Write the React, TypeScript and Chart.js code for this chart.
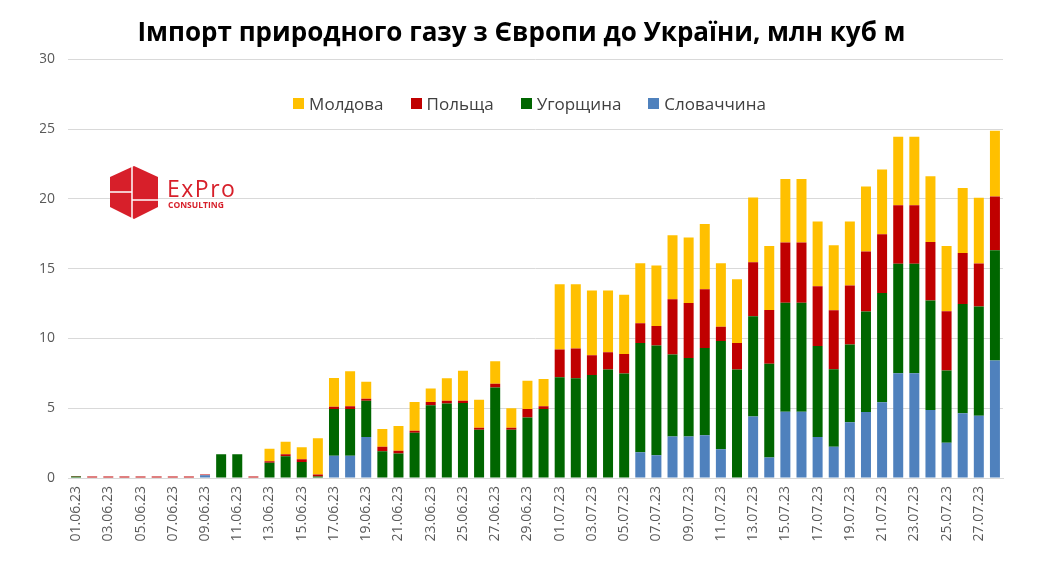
import Chart from "chart.js/auto";
import { useEffect, useRef } from "react";

const dates = [
  "01.06.23", "02.06.23", "03.06.23", "04.06.23", "05.06.23", "06.06.23", "07.06.23", "08.06.23",
  "09.06.23", "10.06.23", "11.06.23", "12.06.23", "13.06.23", "14.06.23", "15.06.23", "16.06.23",
  "17.06.23", "18.06.23", "19.06.23", "20.06.23", "21.06.23", "22.06.23", "23.06.23", "24.06.23",
  "25.06.23", "26.06.23", "27.06.23", "28.06.23", "29.06.23", "30.06.23", "01.07.23", "02.07.23",
  "03.07.23", "04.07.23", "05.07.23", "06.07.23", "07.07.23", "08.07.23", "09.07.23", "10.07.23",
  "11.07.23", "12.07.23", "13.07.23", "14.07.23", "15.07.23", "16.07.23", "17.07.23", "18.07.23",
  "19.07.23", "20.07.23", "21.07.23", "22.07.23", "23.07.23", "24.07.23", "25.07.23", "26.07.23",
  "27.07.23", "28.07.23",
];

// stacked bottom -> top
const slovakia = [
  0, 0, 0, 0, 0, 0, 0, 0, 0.2, 0, 0, 0, 0, 0, 0, 0,
  1.6, 1.6, 2.93, 0, 0, 0, 0, 0, 0, 0, 0, 0, 0, 0, 0, 0,
  0, 0, 0, 1.84, 1.63, 2.97, 2.97, 3.06, 2.06, 0, 4.4, 1.46, 4.75, 4.75,
  2.93, 2.23, 4.0, 4.72, 5.42, 7.51, 7.51, 4.87, 2.52, 4.63, 4.46, 8.42,
];
const hungary = [
  0.1, 0, 0, 0, 0, 0, 0, 0, 0, 1.7, 1.7, 0, 1.1, 1.55, 1.15, 0.1,
  3.35, 3.35, 2.6, 1.92, 1.76, 3.24, 5.21, 5.33, 5.38, 3.45, 6.49, 3.45, 4.33, 4.95, 7.22, 7.15,
  7.37, 7.78, 7.49, 7.83, 7.87, 5.88, 5.62, 6.25, 7.75, 7.78, 7.18, 6.73, 7.8, 7.8,
  6.52, 5.56, 5.57, 7.2, 7.84, 7.84, 7.84, 7.84, 5.18, 7.84, 7.82, 7.89,
];
const poland = [
  0.05, 0.1, 0.1, 0.1, 0.1, 0.1, 0.1, 0.1, 0.05, 0, 0, 0.1, 0.1, 0.15, 0.2, 0.15,
  0.15, 0.19, 0.14, 0.31, 0.19, 0.15, 0.24, 0.2, 0.15, 0.15, 0.26, 0.15, 0.62, 0.19, 1.99, 2.13,
  1.43, 1.22, 1.39, 1.41, 1.39, 3.95, 3.95, 4.21, 1.03, 1.89, 3.87, 3.85, 4.32, 4.32,
  4.29, 4.22, 4.22, 4.31, 4.2, 4.19, 4.19, 4.2, 4.24, 3.65, 3.09, 3.86,
];
const moldova = [
  0, 0, 0, 0, 0, 0, 0, 0, 0, 0, 0, 0, 0.9, 0.9, 0.85, 2.6,
  2.06, 2.5, 1.23, 1.28, 1.77, 2.06, 0.96, 1.61, 2.16, 2.0, 1.61, 1.4, 2.02, 1.96, 4.67, 4.6,
  4.64, 4.44, 4.25, 4.3, 4.33, 4.59, 4.68, 4.68, 4.54, 4.56, 4.65, 4.57, 4.55, 4.55,
  4.63, 4.66, 4.58, 4.66, 4.63, 4.9, 4.9, 4.7, 4.68, 4.65, 4.7, 4.7,
];

const seriesNames = ["Словаччина", "Угорщина", "Польща", "Молдова"];
const seriesColors = ["#4F81BD", "#006600", "#C00000", "#FFC000"];
const seriesValues = [slovakia, hungary, poland, moldova];

const yTicks = { min: 0, max: 30, step: 5 };

const FONT = "'Open Sans', 'Noto Sans', sans-serif";

const Logo = () => (
  <svg width="170" height="60" viewBox="0 0 170 60" style={{ position: "absolute", left: 105, top: 165 }}>
    <polygon points="29,1 53,12 53,42 29,54 5,42 5,12" fill="#D71F2A" />
    <line x1="27" y1="1" x2="27" y2="54" stroke="#fff" strokeWidth="1.5" />
    <line x1="5" y1="27" x2="27" y2="27" stroke="#fff" strokeWidth="1.5" />
    <line x1="27" y1="35" x2="53" y2="35" stroke="#fff" strokeWidth="1.5" />
    <text x="62" y="32" fill="#D71F2A" fontFamily={FONT} fontSize="23" fontWeight="500" letterSpacing="1.5">ExPro</text>
    <text x="63" y="43" fill="#D71F2A" fontFamily={FONT} fontSize="8.5" fontWeight="700">CONSULTING</text>
  </svg>
);

const App = () => {
  const canvasRef = useRef<HTMLCanvasElement | null>(null);
  const chartRef = useRef<Chart | null>(null);

  useEffect(() => {
    document.body.style.margin = "0";
    if (!canvasRef.current) return;
    chartRef.current?.destroy();

    chartRef.current = new Chart(canvasRef.current, {
      type: "bar",
      data: {
        labels: dates,
        datasets: seriesNames.map((name, i) => ({
          label: name,
          data: seriesValues[i],
          backgroundColor: seriesColors[i],
          borderWidth: 0,
          barPercentage: 0.62,
          categoryPercentage: 1,
        })),
      },
      options: {
        responsive: true,
        maintainAspectRatio: false,
        animation: false,
        // left padding keeps the title centred like the original
        layout: { padding: { left: 40, right: 37, top: 0, bottom: 0 } },
        scales: {
          x: {
            stacked: true,
            grid: { display: false, drawTicks: false },
            border: { color: "#d9d9d9" },
            ticks: {
              autoSkip: false,
              minRotation: 90,
              maxRotation: 90,
              padding: 8,
              color: "#595959",
              font: { family: FONT, size: 14 },
              callback: (_v, idx) => (idx % 2 === 0 ? dates[idx] : ""),
            },
            afterFit: scale => {
              scale.height = 85;
            },
          },
          y: {
            stacked: true,
            min: yTicks.min,
            max: yTicks.max,
            grid: { color: "#d9d9d9", drawTicks: false },
            border: { display: false },
            ticks: {
              stepSize: yTicks.step,
              padding: 13,
              color: "#595959",
              font: { family: FONT, size: 14 },
            },
            afterFit: scale => {
              scale.width = 28;
            },
          },
        },
        plugins: {
          legend: { display: false },
          tooltip: { enabled: false },
          title: {
            display: true,
            text: "Імпорт природного газу з Європи до України, млн куб м",
            color: "#000",
            font: { family: FONT, size: 26, weight: "bold" },
            padding: { top: 18, bottom: 10 },
          },
        },
      },
    });

    return () => {
      chartRef.current?.destroy();
      chartRef.current = null;
    };
  }, []);

  const legendOrder = [3, 2, 1, 0];

  return (
    <div style={{ position: "relative", width: 1040, height: 563 }}>
      <canvas ref={canvasRef} />
      <div
        style={{
          position: "absolute",
          top: 92,
          left: 62,
          width: 935,
          display: "flex",
          justifyContent: "center",
          gap: 27,
          fontFamily: FONT,
          fontSize: 17,
          color: "#404040",
        }}
      >
        {legendOrder.map(i => (
          <div key={i} style={{ display: "flex", alignItems: "center", gap: 5 }}>
            <span style={{ width: 11, height: 11, background: seriesColors[i], display: "inline-block" }} />
            <span>{seriesNames[i]}</span>
          </div>
        ))}
      </div>
      <Logo />
    </div>
  );
};

export default App;
